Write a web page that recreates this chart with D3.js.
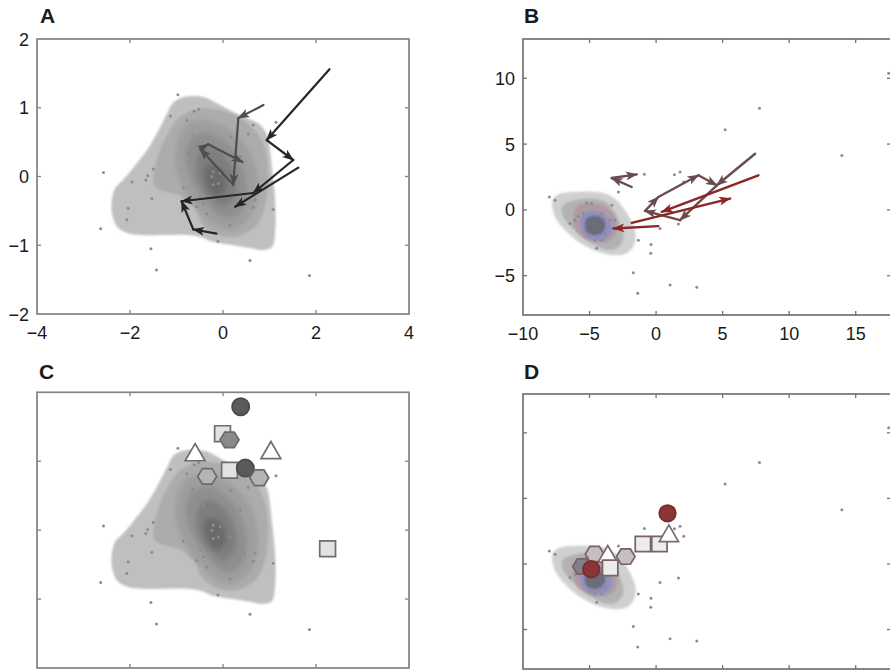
<!DOCTYPE html>
<html><head><meta charset="utf-8">
<script src="https://cdn.jsdelivr.net/npm/d3@7"></script>
<style>
body{margin:0;background:#fff}
text{font-family:"Liberation Sans",Arial,Helvetica,sans-serif}
</style>
</head><body>
<svg id="chart" width="890" height="670"></svg>
<script>
// ---------------- DATA ----------------
const panelLabels = ["A", "B", "C", "D"];
const aXTicks = [-4, -2, 0, 2, 4];
const aYTicks = [-2, -1, 0, 1, 2];
const bXTicks = [-10, -5, 0, 5, 10, 15];
const bYTicks = [-5, 0, 5, 10];

// panel A / C population points
const aDots = [
  [-0.97,1.19],[-1.13,0.88],[-0.62,0.95],[-0.52,0.98],[-0.78,0.82],[-0.65,0.59],[0.17,0.58],
  [0.54,0.62],[0.65,0.75],[1.14,0.79],[-0.75,0.34],[-0.72,0.23],[-0.51,0.43],[-0.42,0.35],
  [-0.24,0.0],[-0.21,-0.12],[-0.1,-0.1],[-2.57,0.06],[-1.96,-0.08],[-1.66,-0.05],[-1.62,0.01],
  [-1.5,0.11],[-1.53,-0.32],[-0.85,-0.16],[-0.21,0.07],[0.15,-0.1],[0.33,-0.28],[0.47,-0.34],
  [0.69,-0.34],[0.65,-0.45],[1.08,-0.48],[-0.42,-0.39],[-0.49,-0.29],[-0.21,-0.34],[0.08,-0.54],
  [0.15,-0.71],[0.47,-0.15],[-2.04,-0.46],[-2.07,-0.63],[-2.63,-0.76],[-0.11,-0.94],[-1.55,-1.05],
  [-1.43,-1.36],[0.58,-1.22],[1.86,-1.44],[0.22,0.29],[0.37,0.29],[-0.06,0.05],[-0.28,-0.34],
  [-0.57,-0.44],[-0.35,-0.54]
];

// panel A / C density contour outlines (outer -> inner)
const aContours = [
  [[-0.92,1.14],[-0.65,1.17],[-0.34,1.14],[-0.06,1.04],[0.22,0.94],[0.52,0.85],[0.80,0.75],[0.95,0.60],
   [1.01,0.39],[1.05,0.14],[1.12,-0.34],[1.12,-0.82],[1.05,-1.03],[0.86,-1.07],[0.58,-1.04],[0.22,-1.0],
   [-0.22,-0.95],[-0.49,-0.88],[-0.77,-0.85],[-1.2,-0.85],[-1.72,-0.85],[-2.06,-0.82],[-2.28,-0.73],
   [-2.39,-0.53],[-2.39,-0.34],[-2.32,-0.17],[-2.15,-0.05],[-1.94,0.12],[-1.63,0.39],[-1.42,0.63],
   [-1.2,0.92],[-1.08,1.07]],
  [[-1.46,-0.15],[-0.89,-0.29],[-0.60,-0.46],[-0.46,-0.68],[-0.17,-0.83],[0.19,-0.88],[0.47,-0.83],
   [0.76,-0.68],[0.90,-0.44],[0.97,-0.10],[0.94,0.29],[0.83,0.53],[0.62,0.72],[0.33,0.87],[-0.10,0.97],
   [-0.46,0.99],[-0.75,0.94],[-1.0,0.82],[-1.18,0.63],[-1.35,0.39],[-1.46,0.14]],
  [[-0.53,0.82],[-0.10,0.77],[0.33,0.58],[0.62,0.29],[0.76,-0.10],[0.69,-0.44],[0.47,-0.68],[0.15,-0.78],
   [-0.17,-0.71],[-0.46,-0.54],[-0.75,-0.29],[-0.96,0.0],[-1.03,0.34],[-0.92,0.63],[-0.75,0.77]],
  [[-0.46,0.63],[-0.10,0.58],[0.22,0.39],[0.44,0.09],[0.51,-0.20],[0.40,-0.49],[0.15,-0.61],[-0.14,-0.54],
   [-0.39,-0.34],[-0.64,-0.10],[-0.78,0.19],[-0.75,0.48]],
  [[-0.39,0.43],[-0.10,0.39],[0.15,0.19],[0.29,-0.10],[0.22,-0.34],[0.01,-0.44],[-0.24,-0.34],
   [-0.46,-0.15],[-0.57,0.09],[-0.53,0.31]],
  [[-0.32,0.17],[-0.10,0.14],[0.04,0.0],[0.04,-0.20],[-0.10,-0.29],[-0.28,-0.22],[-0.39,-0.05],[-0.39,0.09]]
];

// panel A arrows [x1,y1,x2,y2]
const aArrowsDark = [
  [2.29,1.56,0.94,0.53],[0.94,0.53,1.51,0.24],[1.51,0.24,0.65,-0.24],[1.62,0.13,0.26,-0.44],
  [0.65,-0.24,-0.89,-0.36],[-0.64,-0.77,-0.89,-0.36],[-0.14,-0.83,-0.64,-0.77]
];
const aArrowsGray = [
  [0.87,1.04,0.33,0.85],[0.33,0.85,0.22,-0.12],[0.22,-0.12,-0.49,0.40],[-0.49,0.40,-0.32,0.47],
  [-0.32,0.47,0.42,0.21]
];

// panel B / D population points
const bDots = [
  [17.47,10.38],[7.77,7.73],[5.19,6.09],[13.96,4.14],[-0.88,2.70],[1.38,2.68],[1.80,2.88],[-2.83,1.36],
  [-8.02,0.98],[-7.59,0.73],[-1.33,-2.3],[-0.38,-2.62],[-0.40,-3.30],[-1.71,-4.77],[-1.38,-6.33],
  [1.05,-5.7],[3.06,-5.88],[0.30,-1.41],[1.68,-1.08],[2.08,2.12],
  [-6.09,-0.78],[-6.47,-1.03],[-5.47,-0.27],[-4.84,0.48],[-4.08,-0.27],[-3.46,-0.78],[-3.83,-1.79],
  [-4.34,-1.92],[-4.59,-2.30],[-4.89,-1.92],[-4.46,-2.92],[-3.33,0.36],[-3.08,-0.78],[-4.08,-2.30],
  [-5.84,-0.48],[-5.21,0.53]
];

// panel B / D density contour outlines (outer -> inner)
const bContours = [
  [[-7.80,0.73],[-7.35,1.19],[-6.34,1.36],[-5.09,1.39],[-3.83,1.24],[-2.96,0.73],[-2.33,-0.02],
   [-1.83,-0.91],[-1.53,-1.92],[-1.71,-2.80],[-2.33,-3.36],[-3.33,-3.43],[-4.59,-3.11],[-5.84,-2.42],
   [-6.84,-1.54],[-7.59,-0.53]],
  [[-6.97,0.36],[-6.09,0.73],[-4.83,0.86],[-3.83,0.61],[-3.21,-0.02],[-2.71,-1.03],[-2.46,-2.17],
   [-2.96,-2.92],[-3.83,-3.0],[-4.83,-2.55],[-5.84,-1.79],[-6.71,-0.91],[-7.09,-0.15]],
  [[-5.84,0.36],[-4.59,0.48],[-3.46,-0.02],[-2.96,-0.91],[-3.08,-1.92],[-3.71,-2.42],[-4.71,-2.42],
   [-5.71,-1.92],[-6.22,-0.91]],
  [[-5.47,-0.27],[-4.59,-0.10],[-3.71,-0.53],[-3.33,-1.29],[-3.59,-2.05],[-4.34,-2.30],[-5.09,-2.17],
   [-5.59,-1.54],[-5.71,-0.78]],
  [[-5.21,-0.65],[-4.59,-0.45],[-3.96,-0.70],[-3.83,-1.29],[-4.14,-1.79],[-4.71,-1.92],[-5.21,-1.67],
   [-5.34,-1.16]]
];

// panel B arrows [x1,y1,x2,y2]
const bArrowsBrown = [
  [7.44,4.27,4.56,1.87],[4.56,1.87,1.80,-0.78],[1.80,-0.78,-0.83,-0.08],[-0.83,-0.08,0.17,0.98],
  [0.17,0.98,3.18,2.63],[3.18,2.63,4.56,1.87],
  [-1.83,1.74,-3.33,2.42],[-3.33,2.42,-1.45,2.70]
];
const bArrowsRed = [
  [7.69,2.63,0.43,-0.15],[-1.83,-0.98,5.56,0.86],[0.17,-1.23,-3.21,-1.41]
];

// panel C markers (kind, tone, x, y)
const cMarkers = [
  {kind:"circle",tone:0,x:0.38,y:1.79},
  {kind:"square",tone:0,x:-0.01,y:1.40},
  {kind:"hexagon",tone:0,x:0.14,y:1.31},
  {kind:"triangle",tone:0,x:-0.60,y:1.09},
  {kind:"triangle",tone:0,x:1.03,y:1.12},
  {kind:"square",tone:0,x:0.14,y:0.87},
  {kind:"circle",tone:0,x:0.48,y:0.90},
  {kind:"hexagon",tone:1,x:-0.34,y:0.78},
  {kind:"hexagon",tone:1,x:0.78,y:0.76},
  {kind:"square",tone:0,x:2.25,y:-0.27}
];
// panel D markers
const dMarkers = [
  {kind:"hexagon",tone:0,x:-5.57,y:-0.20},
  {kind:"hexagon",tone:1,x:-4.62,y:0.76},
  {kind:"hexagon",tone:1,x:-2.28,y:0.56},
  {kind:"triangle",tone:0,x:-3.63,y:0.56},
  {kind:"square",tone:0,x:-3.45,y:-0.30},
  {kind:"circle",tone:0,x:-4.87,y:-0.40},
  {kind:"square",tone:0,x:-0.99,y:1.52},
  {kind:"square",tone:0,x:0.25,y:1.52},
  {kind:"triangle",tone:0,x:0.96,y:2.13},
  {kind:"circle",tone:0,x:0.86,y:3.86}
];

// ---------------- DRAWING ----------------
const svg = d3.select("#chart");
const defs = svg.append("defs");
defs.append("filter").attr("id","soft").attr("x","-20%").attr("y","-20%").attr("width","140%").attr("height","140%")
  .append("feGaussianBlur").attr("stdDeviation",2.4);
defs.append("filter").attr("id","soft2").attr("x","-20%").attr("y","-20%").attr("width","140%").attr("height","140%")
  .append("feGaussianBlur").attr("stdDeviation",0.8);

function arrowMarker(id, color){
  defs.append("marker").attr("id",id).attr("viewBox","0 0 12 9")
    .attr("markerUnits","userSpaceOnUse").attr("markerWidth",12).attr("markerHeight",9)
    .attr("refX",11).attr("refY",4.5).attr("orient","auto")
    .append("path").attr("d","M0,0 L12,4.5 L0,9 L3,4.5 Z").attr("fill",color);
}
arrowMarker("hDark","#262626");
arrowMarker("hGray","#4e4e4e");
arrowMarker("hBrown","#6a4b50");
arrowMarker("hRed","#8a2626");

const panels = {
  A:{x:d3.scaleLinear([-4,4],[37,409]), y:d3.scaleLinear([-2,2],[314,39]), top:39, bottom:314, left:37, right:409,
     frame:"#828282", xt:aXTicks, yt:aYTicks, labels:true, lx:40, ly:23},
  C:{x:d3.scaleLinear([-4,4],[37,409]), y:d3.scaleLinear([-2,2],[668,392.3]), top:392.3, bottom:668, left:37, right:409,
     frame:"#828282", xt:aXTicks, yt:aYTicks, labels:false, lx:39, ly:379},
  B:{x:d3.scaleLinear([-10,15],[523,855.7]), y:d3.scaleLinear([-5,10],[275.7,78.3]), top:39, bottom:315, left:523, right:891,
     frame:"#7b6e71", xt:bXTicks, yt:bYTicks, labels:true, lx:524, ly:23},
  D:{x:d3.scaleLinear([-10,15],[523,855.7]), y:d3.scaleLinear([-5,10],[629.5,432.8]), top:394, bottom:669, left:523, right:891,
     frame:"#7b6e71", xt:bXTicks, yt:bYTicks, labels:false, lx:524, ly:379}
};

const aColors = ["#bfbfbf","#acacac","#9e9e9e","#8f8f8f","#7e7e7e","#6a6a6a"];
const bColors = ["#d0d0d0","#b2b2b2","#b09aa2","#8e90c0","#6b6c78"];

function drawContours(g, p, contours, colors, blurFrom){
  const line = d3.line().x(d=>p.x(d[0])).y(d=>p.y(d[1])).curve(d3.curveCatmullRomClosed.alpha(0.5));
  contours.forEach((c,i)=>{
    g.append("path").attr("d",line(c)).attr("fill",colors[i])
      .attr("filter", i>=blurFrom ? "url(#soft)" : "url(#soft2)");
  });
}
function drawDots(g, p, dots, color){
  g.selectAll(null).data(dots).join("circle")
    .attr("cx",d=>p.x(d[0])).attr("cy",d=>p.y(d[1])).attr("r",1.5).attr("fill",color);
}
function drawArrows(g, p, arrows, color, marker, w){
  g.selectAll(null).data(arrows).join("line")
    .attr("x1",d=>p.x(d[0])).attr("y1",d=>p.y(d[1]))
    .attr("x2",d=>p.x(d[2])).attr("y2",d=>p.y(d[3]))
    .attr("stroke",color).attr("stroke-width",w).attr("stroke-linecap","round")
    .attr("marker-end",`url(#${marker})`);
}
const hexagonType = {draw(ctx,size){
  const r = Math.sqrt(2*size/(3*Math.sqrt(3)));
  for(let k=0;k<6;k++){
    const a = k*Math.PI/3;
    const px = r*Math.cos(a), py = r*Math.sin(a)*0.95;
    if(k===0) ctx.moveTo(px,py); else ctx.lineTo(px,py);
  }
  ctx.closePath();
}};
function drawMarkers(g, p, markers, style){
  const types = {circle:d3.symbolCircle, square:d3.symbolSquare, triangle:d3.symbolTriangle, hexagon:hexagonType};
  markers.forEach(m=>{
    const s = style(m);
    g.append("path").attr("d", d3.symbol(types[m.kind], s.size)())
      .attr("transform",`translate(${p.x(m.x)},${p.y(m.y)})`)
      .attr("fill",s.fill).attr("stroke",s.stroke).attr("stroke-width",1.7);
  });
}

function drawFrame(g, p){
  const tl = 4;
  const fr = g.append("g");
  fr.append("rect").attr("x",p.left).attr("y",p.top).attr("width",p.right-p.left).attr("height",p.bottom-p.top)
    .attr("fill","none").attr("stroke",p.frame).attr("stroke-width",1.7);
  p.xt.forEach(t=>{
    const X = p.x(t);
    if(X<=p.left+1 || X>=p.right-1) return;
    fr.append("line").attr("x1",X).attr("x2",X).attr("y1",p.bottom).attr("y2",p.bottom-tl).attr("stroke",p.frame).attr("stroke-width",1.3);
    fr.append("line").attr("x1",X).attr("x2",X).attr("y1",p.top).attr("y2",p.top+tl).attr("stroke",p.frame).attr("stroke-width",1.3);
  });
  p.yt.forEach(t=>{
    const Y = p.y(t);
    if(Y<=p.top+1 || Y>=p.bottom-1) return;
    fr.append("line").attr("x1",p.left).attr("x2",p.left+tl).attr("y1",Y).attr("y2",Y).attr("stroke",p.frame).attr("stroke-width",1.3);
    fr.append("line").attr("x1",p.right).attr("x2",p.right-tl).attr("y1",Y).attr("y2",Y).attr("stroke",p.frame).attr("stroke-width",1.3);
  });
  if(p.labels){
    const fmt = p.x.tickFormat();
    g.selectAll(null).data(p.xt).join("text")
      .attr("x",d=>p.x(d)).attr("y",p.bottom+25).attr("text-anchor","middle")
      .attr("font-size",18).attr("fill","#1a1a1a").text(d=>fmt(d));
    g.selectAll(null).data(p.yt).join("text")
      .attr("x",p.left-8).attr("y",d=>p.y(d)+6.5).attr("text-anchor","end")
      .attr("font-size",18).attr("fill","#1a1a1a").text(d=>fmt(d));
  }
}

function panelLabel(p, txt){
  svg.append("text").attr("x",p.lx).attr("y",p.ly).attr("font-size",21).attr("font-weight","bold")
    .attr("fill","#1a1a1a").text(txt);
}

// Panel A
{
  const p = panels.A, g = svg.append("g");
  drawContours(g,p,aContours,aColors,2);
  drawDots(g,p,aDots,"#8c8c8c");
  drawArrows(g,p,aArrowsGray,"#4e4e4e","hGray",2.2);
  drawArrows(g,p,aArrowsDark,"#262626","hDark",2.2);
  drawFrame(g,p); panelLabel(p,panelLabels[0]);
}
// Panel B
{
  const p = panels.B, g = svg.append("g");
  drawContours(g,p,bContours,bColors,99);
  drawDots(g,p,bDots,"#8e88a2");
  drawArrows(g,p,bArrowsBrown,"#6a4b50","hBrown",2.4);
  drawArrows(g,p,bArrowsRed,"#8a2626","hRed",2.4);
  drawFrame(g,p); panelLabel(p,panelLabels[1]);
}
// Panel C
{
  const p = panels.C, g = svg.append("g");
  drawContours(g,p,aContours,aColors,2);
  drawDots(g,p,aDots,"#8c8c8c");
  drawMarkers(g,p,cMarkers,m=>{
    if(m.kind==="circle") return {size:235, fill:"#5a5a5a", stroke:"#4a4a4a"};
    if(m.kind==="square") return {size:250, fill:"#e2e2e2", stroke:"#6e6e6e"};
    if(m.kind==="triangle") return {size:170, fill:"#ffffff", stroke:"#6e6e6e"};
    return {size:235, fill: m.tone===0 ? "#8a8a8a" : "#b4b4b4", stroke:"#6a6a6a"};
  });
  drawFrame(g,p); panelLabel(p,panelLabels[2]);
}
// Panel D
{
  const p = panels.D, g = svg.append("g");
  drawContours(g,p,bContours,bColors,99);
  drawDots(g,p,bDots,"#8e88a2");
  drawMarkers(g,p,dMarkers,m=>{
    if(m.kind==="circle") return {size:215, fill:"#8b3636", stroke:"#7a2c2c"};
    if(m.kind==="square") return {size:235, fill:"#ececec", stroke:"#7a6163"};
    if(m.kind==="triangle") return {size:160, fill:"#ffffff", stroke:"#7a6a6c"};
    return {size:225, fill: m.tone===0 ? "#7f7f8e" : "#c6bfc0", stroke:"#7a6163"};
  });
  drawFrame(g,p); panelLabel(p,panelLabels[3]);
}
</script>
</body></html>
